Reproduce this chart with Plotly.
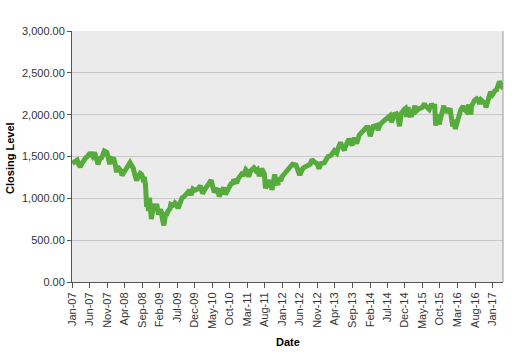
import plotly.graph_objects as go

dates = [
"2007-01-03","2007-01-15","2007-01-31","2007-02-15","2007-02-28","2007-03-14","2007-03-30","2007-04-16","2007-04-30",
"2007-05-15","2007-05-31","2007-06-15","2007-06-29","2007-07-16","2007-07-31","2007-08-15","2007-08-31","2007-09-14","2007-09-28",
"2007-10-09","2007-10-31","2007-11-15","2007-11-26","2007-11-30","2007-12-14","2007-12-31",
"2008-01-15","2008-01-23","2008-01-31","2008-02-15","2008-02-29","2008-03-10","2008-03-31","2008-04-15","2008-04-30",
"2008-05-19","2008-05-30","2008-06-16","2008-06-30","2008-07-15","2008-07-31","2008-08-15","2008-08-29",
"2008-09-15","2008-09-19","2008-09-30","2008-10-10","2008-10-13","2008-10-27","2008-10-31","2008-11-04","2008-11-20","2008-11-28",
"2008-12-08","2008-12-31",
"2009-01-06","2009-01-20","2009-01-30","2009-02-09","2009-02-27","2009-03-09","2009-03-26","2009-03-31","2009-04-15","2009-04-30",
"2009-05-08","2009-05-29","2009-06-12","2009-06-30","2009-07-10","2009-07-31","2009-08-14","2009-08-31","2009-09-15","2009-09-30",
"2009-10-19","2009-10-30","2009-11-16","2009-11-30","2009-12-15","2009-12-31",
"2010-01-19","2010-02-08","2010-02-26","2010-03-15","2010-03-31","2010-04-23","2010-04-30","2010-05-20","2010-05-28",
"2010-06-18","2010-07-02","2010-07-30","2010-08-09","2010-08-26","2010-09-15","2010-09-30","2010-10-15","2010-10-29",
"2010-11-05","2010-11-30","2010-12-15","2010-12-31",
"2011-01-14","2011-01-31","2011-02-18","2011-02-28","2011-03-16","2011-03-31","2011-04-29","2011-05-16","2011-05-31",
"2011-06-15","2011-06-30","2011-07-07","2011-07-29","2011-08-08","2011-08-31","2011-09-12","2011-09-30","2011-10-03",
"2011-10-27","2011-10-31","2011-11-25","2011-11-30","2011-12-19","2011-12-30",
"2012-01-31","2012-02-29","2012-03-30","2012-04-30","2012-05-15","2012-06-01","2012-06-29","2012-07-31","2012-08-31",
"2012-09-14","2012-09-28","2012-10-31","2012-11-15","2012-11-30","2012-12-31",
"2013-01-31","2013-02-28","2013-03-28","2013-04-18","2013-04-30","2013-05-21","2013-05-31","2013-06-24","2013-06-28",
"2013-08-02","2013-08-30","2013-09-18","2013-09-30","2013-10-08","2013-10-31","2013-11-29","2013-12-31",
"2014-01-15","2014-02-03","2014-02-28","2014-03-31","2014-04-11","2014-04-30","2014-05-30","2014-06-30","2014-07-24",
"2014-08-07","2014-08-29","2014-09-18","2014-09-30","2014-10-15","2014-10-31","2014-11-28","2014-12-05","2014-12-16",
"2014-12-29","2014-12-31",
"2015-01-15","2015-01-30","2015-02-27","2015-03-10","2015-03-31","2015-04-30","2015-05-21","2015-05-29","2015-06-30",
"2015-07-20","2015-07-31","2015-08-17","2015-08-25","2015-08-31","2015-09-16","2015-09-28","2015-09-30","2015-10-30",
"2015-11-03","2015-11-13","2015-11-30","2015-12-14","2015-12-29","2015-12-31",
"2016-01-20","2016-01-29","2016-02-11","2016-02-29","2016-03-31","2016-04-20","2016-04-29","2016-05-19","2016-05-31",
"2016-06-08","2016-06-27","2016-06-30","2016-07-29","2016-08-15","2016-08-31","2016-09-09","2016-09-22","2016-09-30",
"2016-10-31","2016-11-04","2016-11-30","2016-12-13","2016-12-30",
"2017-01-26","2017-01-31","2017-02-28","2017-03-01","2017-03-21","2017-03-31",
]

closing_level = [
1417,1431,1438,1456,1407,1377,1421,1468,1482,
1501,1531,1532,1503,1549,1455,1406,1474,1484,1527,
1565,1549,1452,1407,1481,1468,1468,
1380,1310,1379,1350,1331,1273,1323,1351,1386,
1427,1400,1361,1280,1214,1267,1298,1283,
1193,1255,1166,899,1003,848,969,1006,752,896,
909,903,
935,805,826,870,735,677,833,798,852,873,
929,919,946,919,879,987,1005,1021,1052,1057,
1097,1036,1110,1096,1108,1115,
1150,1056,1104,1150,1169,1217,1187,1071,1089,
1117,1022,1102,1128,1047,1125,1141,1176,1183,
1225,1181,1236,1258,
1293,1286,1343,1327,1257,1326,1364,1330,1345,
1266,1321,1354,1292,1119,1219,1162,1131,1099,
1285,1253,1159,1247,1205,1258,
1312,1366,1408,1398,1330,1278,1362,1379,1407,
1465,1441,1412,1353,1416,1426,
1498,1515,1569,1541,1598,1669,1631,1573,1606,
1710,1633,1725,1682,1656,1757,1806,1848,
1848,1742,1859,1872,1815,1884,1924,1960,1988,
1910,2003,2011,1972,1862,2018,2068,2075,1973,
2091,2059,
1992,1995,2105,2044,2068,2086,2131,2107,2063,
2128,2104,2102,1868,1972,1996,1882,1920,2079,
2109,2023,2080,2021,2078,2044,
1859,1940,1829,1932,2060,2102,2065,2040,2097,
2119,2001,2099,2174,2190,2171,2128,2177,2168,
2126,2085,2199,2271,2239,
2297,2279,2364,2396,2344,2363,
]

fig = go.Figure()
fig.add_trace(go.Scatter(
    x=dates, y=closing_level, mode="lines",
    line=dict(color="#55ab3b", width=5),
    showlegend=False, hoverinfo="skip",
))

font = "Liberation Sans, Arial, sans-serif"
fig.update_layout(
    width=526, height=362,
    margin=dict(l=72, r=23, t=31, b=80),
    paper_bgcolor="white",
    plot_bgcolor="#ebebeb",
    font=dict(family=font, size=11, color="#333333"),
    xaxis=dict(
        range=["2007-01-01", "2017-04-01"],
        tickmode="linear", tick0="2007-01-01", dtick="M5",
        tickformat="%b-%y", tickangle=-90,
        ticks="outside", ticklen=5, tickcolor="#555555",
        showline=True, linecolor="#555555", linewidth=1,
        showgrid=False, zeroline=False, automargin=False,
        tickfont=dict(size=11, color="#333333"),
    ),
    yaxis=dict(
        range=[0, 3000], dtick=500, tickformat=",.2f",
        ticks="outside", ticklen=4, tickcolor="#555555",
        showline=True, linecolor="#555555", linewidth=1,
        showgrid=True, gridcolor="#c8c8c8", gridwidth=1,
        zeroline=False, automargin=False,
        tickfont=dict(size=11, color="#333333"),
    ),
    shapes=[dict(type="line", xref="paper", yref="paper", x0=1, x1=1, y0=0, y1=1,
                 line=dict(color="#999999", width=1))],
    annotations=[
        dict(text="<b>Date</b>", xref="paper", yref="paper", x=0.502, y=-0.239,
             xanchor="center", yanchor="middle", showarrow=False,
             font=dict(size=11, color="#000000")),
        dict(text="<b>Closing Level</b>", xref="paper", yref="paper", x=-0.144, y=0.494,
             xanchor="center", yanchor="middle", textangle=-90, showarrow=False,
             font=dict(size=11, color="#000000")),
    ],
)

fig.write_html("out.html", config={"displayModeBar": False},
               post_script="document.body.style.margin='0';")
